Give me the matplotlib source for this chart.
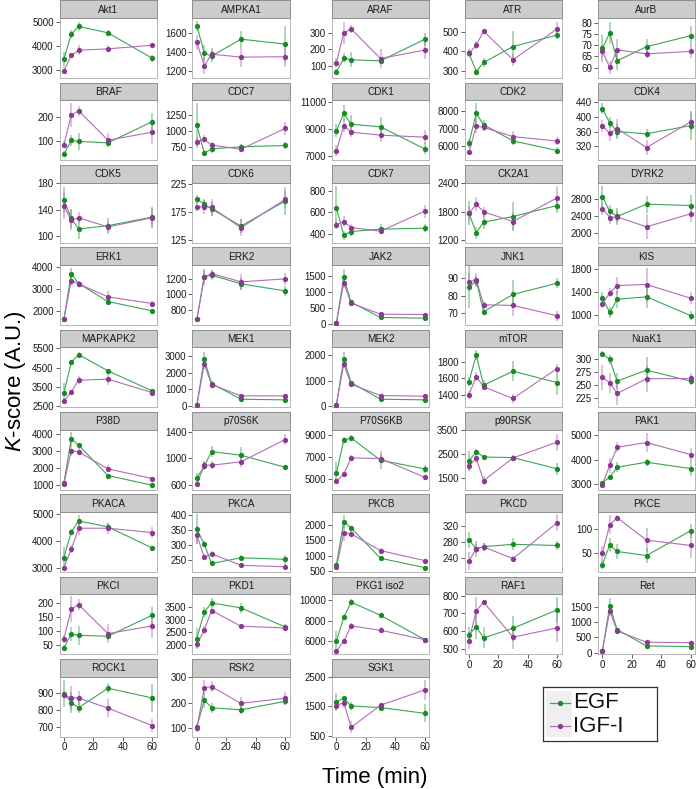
import matplotlib
matplotlib.use('Agg')
import matplotlib.pyplot as plt
from matplotlib import font_manager
from matplotlib.patches import Rectangle
from matplotlib.lines import Line2D
import numpy as np

# ---------------- data ----------------
times = [0, 5, 10, 30, 60]

kinases = ["Akt1", "AMPKA1", "ARAF", "ATR", "AurB",
           "BRAF", "CDC7", "CDK1", "CDK2", "CDK4",
           "CDK5", "CDK6", "CDK7", "CK2A1", "DYRK2",
           "ERK1", "ERK2", "JAK2", "JNK1", "KIS",
           "MAPKAPK2", "MEK1", "MEK2", "mTOR", "NuaK1",
           "P38D", "p70S6K", "P70S6KB", "p90RSK", "PAK1",
           "PKACA", "PKCA", "PKCB", "PKCD", "PKCE",
           "PKCI", "PKD1", "PKG1 iso2", "RAF1", "Ret",
           "ROCK1", "RSK2", "SGK1"]

egf_mean = [
    [3450, 4500, 4820, 4550, 3490], [1673, 1388, 1357, 1534, 1482], [64, 146, 136, 130, 260],
    [391, 298, 344, 425, 483], [68.5, 75.5, 63, 69.3, 74.2],
    [45, 103, 99, 93, 182], [1080, 652, 719, 750, 771], [8875, 10175, 9375, 9175, 7525],
    [6170, 7870, 7220, 6300, 5750], [421, 384, 360, 354, 376],
    [155, 127, 111, 116, 129], [197, 189, 180, 150, 194], [641, 384, 419, 441, 450],
    [1772, 1355, 1581, 1701, 1934], [2863, 2515, 2396, 2689, 2657],
    [1603, 3679, 3237, 2412, 1985], [686, 1225, 1242, 1133, 1044], [41, 1439, 678, 206, 185],
    [84.7, 88.5, 70.8, 80.7, 87.1], [1301, 1041, 1272, 1313, 988],
    [3172, 4776, 5172, 4328, 3293], [80, 2817, 1348, 402, 362], [53, 1842, 921, 263, 237],
    [1561, 1887, 1515, 1689, 1548], [309.7, 299.4, 257.4, 278.7, 257.4],
    [1157, 3690, 3323, 1563, 1002], [709, 883, 1102, 1047, 868], [5519, 8542, 8756, 6710, 5916],
    [2226, 2610, 2390, 2363, 1897], [3068, 3284, 3689, 3892, 3635],
    [3380, 4325, 4730, 4509, 3736], [351, 301, 237, 256, 251], [714, 2097, 1893, 918, 618],
    [285, 262.5, 268, 274, 271], [25.7, 66.7, 52.8, 44.4, 95.8],
    [38, 88, 83, 80, 155], [2250, 3303, 3658, 3461, 2711], [6032, 8323, 9774, 8516, 6161],
    [580, 624, 561, 616, 720], [65, 1522, 750, 217, 196],
    [894, 842, 813, 925, 869], [106, 210, 180, 172, 205], [1648, 1773, 1511, 1455, 1261],
]
egf_err = [
    [300, 150, 200, 100, 150], [50, 80, 60, 90, 190], [15, 30, 45, 20, 40],
    [20, 12, 25, 80, 20], [6, 5, 4, 3.5, 4.5],
    [12, 25, 35, 15, 35], [350, 50, 60, 50, 60], [500, 600, 700, 700, 400],
    [250, 600, 300, 250, 200], [15, 15, 20, 12, 40],
    [20, 15, 15, 12, 15], [8, 8, 12, 12, 25], [200, 40, 40, 50, 40],
    [250, 120, 150, 300, 150], [250, 150, 200, 200, 250],
    [50, 250, 100, 150, 100], [20, 80, 60, 80, 60], [20, 250, 60, 30, 30],
    [12, 3, 2, 8, 3], [100, 100, 150, 200, 80],
    [550, 100, 150, 100, 100], [30, 450, 150, 60, 60], [30, 300, 80, 40, 50],
    [50, 60, 60, 120, 150], [5, 8, 15, 25, 8],
    [100, 400, 100, 100, 50], [80, 60, 80, 120, 30], [1000, 300, 300, 800, 400],
    [400, 120, 100, 100, 250], [80, 100, 200, 150, 300],
    [400, 100, 200, 150, 60], [50, 10, 8, 8, 15], [60, 200, 60, 60, 40],
    [20, 20, 10, 15, 12], [10, 15, 15, 15, 15],
    [10, 25, 35, 15, 30], [400, 200, 200, 200, 100], [1000, 250, 300, 150, 150],
    [45, 70, 60, 70, 75], [20, 250, 60, 40, 40],
    [80, 60, 30, 30, 80], [10, 30, 20, 15, 15], [300, 80, 150, 100, 300],
]
igf_mean = [
    [2960, 3600, 3820, 3880, 4030], [1500, 1256, 1377, 1346, 1350], [118, 298, 324, 144, 195],
    [390, 432, 503, 358, 514], [67.2, 60.1, 67.9, 66.1, 67.2],
    [85, 210, 228, 104, 138], [827, 869, 776, 714, 1034], [7375, 9250, 8775, 8550, 8400],
    [5640, 7160, 7070, 6550, 6290], [375, 355, 368, 317, 386],
    [146, 124, 128, 114, 128], [184, 184, 183, 147, 197], [484, 512, 456, 422, 609],
    [1765, 1962, 1800, 1595, 2096], [2586, 2372, 2388, 2150, 2460],
    [1603, 3374, 3221, 2626, 2321], [686, 1221, 1263, 1158, 1196], [41, 1274, 647, 308, 298],
    [87.7, 89.2, 74.8, 74.4, 68.5], [1191, 1383, 1510, 1528, 1290],
    [2759, 3241, 3845, 3897, 3207], [80, 2515, 1288, 604, 604], [53, 1645, 855, 408, 382],
    [1396, 1623, 1495, 1351, 1722], [264.5, 254, 233.5, 262, 262.5],
    [1079, 3014, 2936, 1950, 1389], [615, 898, 898, 948, 1281], [4786, 5427, 6924, 6863, 5153],
    [2007, 2336, 1404, 2349, 3007], [2986, 3770, 4500, 4689, 4203],
    [3012, 3687, 4460, 4460, 4301], [331, 258, 269, 231, 226], [629, 1733, 1700, 1164, 843],
    [232, 263, 267.5, 238, 328], [49.3, 108.3, 122.9, 76.4, 65.3],
    [71, 177, 193, 89, 117], [2026, 2592, 3355, 2737, 2671], [5065, 6000, 7484, 7065, 6161],
    [546, 715, 764, 565, 618], [65, 1359, 707, 337, 326],
    [887, 869, 869, 810, 710], [100, 258, 262, 197, 217], [1523, 1625, 784, 1534, 2057],
]
igf_err = [
    [150, 100, 200, 150, 100], [80, 90, 60, 100, 110], [30, 65, 25, 60, 55],
    [15, 20, 10, 30, 35], [3, 3, 5, 2, 3],
    [15, 50, 20, 30, 50], [70, 60, 50, 40, 100], [400, 500, 400, 500, 500],
    [150, 400, 200, 300, 250], [15, 20, 25, 20, 25],
    [20, 15, 8, 8, 15], [8, 12, 15, 15, 15], [30, 50, 30, 30, 60],
    [150, 150, 100, 170, 250], [150, 150, 150, 300, 200],
    [50, 200, 150, 250, 100], [20, 100, 50, 100, 80], [20, 150, 60, 30, 40],
    [5, 4, 2, 6, 3], [60, 80, 150, 280, 100],
    [150, 100, 200, 300, 100], [30, 300, 100, 60, 60], [30, 150, 70, 50, 50],
    [50, 60, 40, 60, 60], [25, 20, 22, 25, 10],
    [100, 300, 200, 200, 80], [30, 60, 60, 80, 80], [300, 200, 300, 400, 200],
    [200, 200, 200, 100, 350], [60, 300, 200, 400, 250],
    [50, 150, 250, 200, 200], [30, 10, 10, 8, 8], [40, 250, 80, 80, 40],
    [22, 12, 10, 6, 22], [15, 20, 5, 25, 25],
    [15, 45, 20, 35, 45], [150, 150, 100, 100, 100], [150, 200, 250, 300, 150],
    [50, 80, 8, 70, 80], [20, 150, 40, 40, 40],
    [20, 70, 40, 50, 40], [15, 30, 20, 25, 25], [150, 200, 200, 80, 350],
]

y_ticks = [
    [3000, 4000, 5000], [1200, 1400, 1600], [100, 200, 300], [300, 400, 500], [60, 65, 70, 75, 80],
    [100, 200], [750, 1000, 1250], [7000, 9000, 11000], [6000, 7000, 8000], [320, 360, 400, 440],
    [100, 140, 180], [125, 175, 225], [400, 600, 800], [1200, 1800, 2400], [2000, 2400, 2800],
    [2000, 3000, 4000], [800, 1000, 1200], [0, 500, 1000, 1500], [70, 80, 90], [1000, 1400, 1800],
    [2500, 3500, 4500, 5500], [0, 1000, 2000, 3000], [0, 1000, 2000], [1400, 1600, 1800], [225, 250, 275, 300],
    [1000, 2000, 3000, 4000], [600, 1000, 1400], [5000, 7000, 9000], [1500, 2500, 3500], [3000, 4000, 5000],
    [3000, 4000, 5000], [250, 300, 350, 400], [500, 1000, 1500, 2000], [240, 280, 320], [50, 100],
    [50, 100, 150, 200], [2000, 2500, 3000, 3500], [6000, 8000, 10000], [500, 600, 700, 800], [0, 500, 1000, 1500],
    [700, 800, 900], [100, 200, 300], [500, 1500, 2500],
]
y_limits = [
    (2664, 5182), (1130, 1757), (27, 391), (266, 571), (55.4, 82.2),
    (20, 273), (544, 1472), (6675, 11175), (5200, 8629), (283, 444.5),
    (90.4, 181.5), (121, 226.8), (316, 878), (1151, 2421), (1778, 3204),
    (1344, 4092), (615, 1373), (-21, 1829), (63.3, 97.6), (826, 1870),
    (2448, 5552), (-80, 3541), (-53, 2316), (1243, 1986), (207, 323),
    (750, 4232), (535, 1430), (4023, 9519), (1034, 3530), (2784, 5216),
    (2853, 5061), (209, 409), (479, 2408), (205, 355), (10.4, 135),
    (15.5, 229.8), (1632, 4000), (4742, 10548), (468, 809), (-54, 1902),
    (646, 992), (68, 301), (466, 2511),
]
x_ticks = [0, 20, 40, 60]
series_names = ["EGF", "IGF-I"]

# ---------------- style ----------------
def pick(fams):
    avail = {f.name for f in font_manager.fontManager.ttflist}
    for f in fams:
        if f in avail:
            return f
    return 'DejaVu Sans'

base = pick(['Liberation Sans', 'Arial', 'DejaVu Sans'])
plt.rcParams['font.family'] = [base, 'DejaVu Sans']
plt.rcParams['mathtext.fontset'] = 'custom'
plt.rcParams['mathtext.it'] = base + ':italic'
plt.rcParams['mathtext.rm'] = base

W, H = 696, 789
fig = plt.figure(figsize=(W / 100, H / 100), dpi=100)

def px_axes(x, y, w, h):
    return fig.add_axes([x / W, 1 - (y + h) / H, w / W, h / H])

col_left = [59.5, 192.5, 332.0, 464.5, 598.0]
pw, ph, sh = 97.0, 60.0, 17.5
row_pitch = 82.35

green_pt, green_ln = '#1a8a24', '#3aa553'
purple_pt, purple_ln = '#8a3a90', '#b36cb8'
n_rows = 9

for i, name in enumerate(kinases):
    r, c = divmod(i, 5)
    top = 0.3 + row_pitch * r
    ax = px_axes(col_left[c], top + sh, pw, ph)
    st = px_axes(col_left[c], top, pw, sh)

    for mean, err, pc, lc in [(egf_mean[i], egf_err[i], green_pt, green_ln),
                              (igf_mean[i], igf_err[i], purple_pt, purple_ln)]:
        m = np.array(mean, dtype=float)
        e = np.array(err, dtype=float)
        ax.vlines(times, m - e, m + e, color=lc, alpha=0.55, lw=1.1, zorder=2)
        ax.plot(times, m, color=lc, lw=0.8, zorder=3)
        ax.plot(times, m, 'o', color=pc, ms=3.8, mec='none', zorder=4)

    ax.set_xlim(-3, 63)
    ax.set_ylim(*y_limits[i])
    ax.set_yticks(y_ticks[i])
    ax.set_yticklabels([str(t) for t in y_ticks[i]])
    bottom_panel = (r == n_rows - 1) or (c >= 3 and r == n_rows - 2)
    if bottom_panel:
        ax.set_xticks(x_ticks)
        ax.set_xticklabels([str(t) for t in x_ticks])
    else:
        ax.set_xticks([])
    ax.tick_params(axis='both', length=3, width=0.6, color='#444444',
                   labelsize=7, labelcolor='#1a1a1a', pad=1.2)
    for s in ax.spines.values():
        s.set_color('#b5b5b5')
        s.set_linewidth(0.7)
    ax.set_facecolor('white')

    st.set_facecolor('#cccccc')
    st.set_xticks([])
    st.set_yticks([])
    for s in st.spines.values():
        s.set_color('#8f8f8f')
        s.set_linewidth(0.7)
    st.text(0.5, 0.47, name, ha='center', va='center', fontsize=7.2,
            color='#1a1a1a', transform=st.transAxes)

# axis titles
fig.text(375 / W, 1 - 777 / H, 'Time (min)', ha='center', va='center', fontsize=16)
fig.text(16 / W, 1 - 381 / H, r'$K$-score (A.U.)', ha='center', va='center',
         fontsize=16, rotation=90)

# legend
lg = px_axes(543, 687, 114, 54)
lg.set_xlim(0, 114)
lg.set_ylim(54, 0)
lg.set_xticks([])
lg.set_yticks([])
for s in lg.spines.values():
    s.set_color('#333333')
    s.set_linewidth(0.9)
for k, (lab, pc, lc) in enumerate([(series_names[0], green_pt, green_ln),
                                  (series_names[1], purple_pt, purple_ln)]):
    yc = 15.5 + 23 * k
    lg.add_patch(Rectangle((3, yc - 11.5), 26, 23, facecolor='#efefef', edgecolor='none'))
    lg.plot([7, 27], [yc, yc], color=lc, lw=0.9)
    lg.plot([17], [yc], 'o', color=pc, ms=3.8, mec='none')
    lg.text(30, yc + 0.5, lab, ha='left', va='center', fontsize=16, color='#111111')

fig.savefig('out.png', dpi=100)
